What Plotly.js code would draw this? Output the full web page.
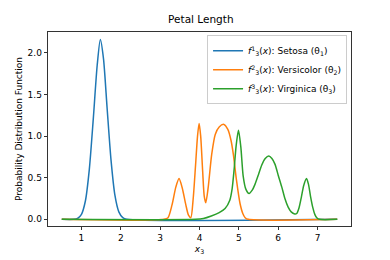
<!DOCTYPE html>
<html>
<head>
<meta charset="utf-8">
<script src="https://cdn.plot.ly/plotly-3.0.1.min.js"></script>
<style>html,body{margin:0;padding:0;background:#fff;}#chart{width:390px;height:260px;}</style>
</head>
<body>
<div id="chart"></div>
<script>
const seriesNames = ["<i>f</i><sup>1</sup><sub>3</sub>(<i>x</i>): Setosa (θ<sub>1</sub>)",
                     "<i>f</i><sup>2</sup><sub>3</sub>(<i>x</i>): Versicolor (θ<sub>2</sub>)",
                     "<i>f</i><sup>3</sup><sub>3</sub>(<i>x</i>): Virginica (θ<sub>3</sub>)"];

const setosaX = [0.5, 0.8, 0.9, 1.0, 1.1, 1.2, 1.3, 1.4, 1.48, 1.56, 1.65, 1.75, 1.85, 1.95, 2.05, 2.15, 7.5];
const setosaY = [0, 0, 0.01, 0.06, 0.22, 0.6, 1.2, 1.85, 2.16, 1.93, 1.35, 0.72, 0.29, 0.09, 0.02, 0, 0];

const versicolorX = [0.5, 3.1, 3.2, 3.3, 3.4, 3.48, 3.56, 3.65, 3.72, 3.78, 3.84, 3.9, 3.95, 3.99, 4.03, 4.08, 4.12, 4.16, 4.22, 4.31, 4.4, 4.5, 4.62, 4.72, 4.8, 4.86, 4.94, 5.03, 5.1, 5.16, 5.24, 7.5];
const versicolorY = [0, 0, 0.02, 0.17, 0.39, 0.49, 0.38, 0.18, 0.05, 0.02, 0.25, 0.65, 1.0, 1.15, 1.0, 0.58, 0.28, 0.2, 0.38, 0.78, 1.02, 1.11, 1.14, 1.08, 0.95, 0.78, 0.47, 0.19, 0.07, 0.02, 0, 0];

const virginicaX = [0.5, 3.9, 4.1, 4.3, 4.5, 4.65, 4.77, 4.83, 4.88, 4.93, 4.99, 5.05, 5.11, 5.18, 5.26, 5.34, 5.41, 5.5, 5.58, 5.67, 5.76, 5.84, 5.92, 6.0, 6.09, 6.17, 6.25, 6.33, 6.42, 6.47, 6.53, 6.59, 6.65, 6.72, 6.77, 6.82, 6.88, 6.93, 6.98, 7.05, 7.5];
const virginicaY = [0, 0, 0.01, 0.04, 0.08, 0.13, 0.23, 0.37, 0.6, 0.88, 1.07, 0.87, 0.52, 0.36, 0.31, 0.35, 0.42, 0.54, 0.65, 0.73, 0.76, 0.73, 0.66, 0.53, 0.39, 0.25, 0.15, 0.09, 0.065, 0.07, 0.14, 0.27, 0.41, 0.49, 0.42, 0.28, 0.14, 0.06, 0.02, 0, 0];

const xTicks = [1, 2, 3, 4, 5, 6, 7];
const yTicks = [0, 0.5, 1, 1.5, 2];
const yTickLabels = ["0.0", "0.5", "1.0", "1.5", "2.0"];
const colors = ["#1f77b4", "#ff7f0e", "#2ca02c"];

const font = "DejaVu Sans, sans-serif";
const mk = (x, y, i) => ({x: x, y: y, name: seriesNames[i], type: "scatter", mode: "lines",
  line: {color: colors[i], width: 1.5, shape: "spline", smoothing: 0.7}});

const data = [mk(setosaX, setosaY, 0), mk(versicolorX, versicolorY, 1), mk(virginicaX, virginicaY, 2)];

const layout = {
  width: 390, height: 260,
  margin: {l: 48, r: 39, t: 32, b: 34},
  paper_bgcolor: "#fff", plot_bgcolor: "#fff",
  font: {family: font, size: 9, color: "#000"},
  title: {text: "Petal Length", font: {family: font, size: 10.5, color: "#000"}, x: 0.515, xanchor: "center", y: 0.925, yanchor: "middle"},
  showlegend: true,
  legend: {x: 0.987, y: 0.983, xanchor: "right", yanchor: "top", bgcolor: "rgba(255,255,255,0.8)",
    bordercolor: "#cccccc", borderwidth: 1, font: {family: font, size: 9}, tracegroupgap: 0, itemwidth: 30},
  xaxis: {range: [0.15, 7.85], tickvals: xTicks, ticks: "outside", ticklen: 3.5, tickwidth: 0.8, tickcolor: "#000",
    showgrid: false, zeroline: false, showline: true, linecolor: "#000", linewidth: 0.8, mirror: true,
    title: {text: "<i>x</i><sub>3</sub>", font: {family: font, size: 9}, standoff: 3}, tickfont: {family: font, size: 9}},
  yaxis: {range: [-0.08, 2.25], tickvals: yTicks, ticktext: yTickLabels, ticks: "outside", ticklen: 3.5, tickwidth: 0.8, tickcolor: "#000",
    showgrid: false, zeroline: false, showline: true, linecolor: "#000", linewidth: 0.8, mirror: true,
    title: {text: "Probability Distribution Function", font: {family: font, size: 9}, standoff: 3}, tickfont: {family: font, size: 9}}
};

Plotly.newPlot("chart", data, layout, {displayModeBar: false, staticPlot: true});
</script>
</body>
</html>
